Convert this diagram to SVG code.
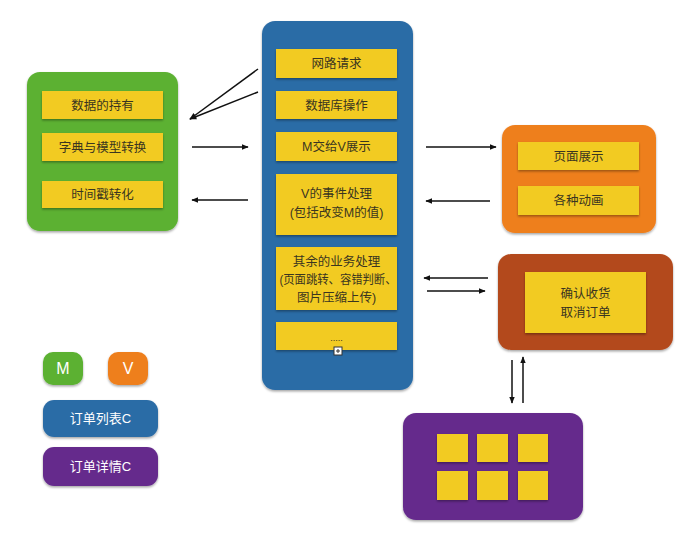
<svg xmlns="http://www.w3.org/2000/svg" width="700" height="535" viewBox="0 0 700 535">
<style>
.bar{fill:#f2cb23;filter:url(#sh)}
.t{font-family:"Liberation Sans","Noto Sans CJK SC",sans-serif;font-size:12.5px;fill:#3a3520;text-anchor:middle}
.w{font-family:"Liberation Sans","Noto Sans CJK SC",sans-serif;font-size:13px;fill:#ffffff;text-anchor:middle}
.c{stroke:#111;stroke-width:1.5;fill:none;marker-end:url(#ah)}
</style>
<defs>
<filter id="sh" x="-10%" y="-10%" width="130%" height="140%">
<feDropShadow dx="0" dy="1.5" stdDeviation="1.2" flood-color="#000" flood-opacity="0.35"/>
</filter>
<marker id="ah" viewBox="0 0 10 10" refX="9" refY="5" markerWidth="7" markerHeight="7" orient="auto" markerUnits="userSpaceOnUse">
<path d="M0,1 L10,5 L0,9 Z" fill="#111"/>
</marker>
</defs>
<rect width="700" height="535" fill="#fff"/>

<g id="model">
<rect x="27" y="72" width="151" height="159" rx="13" fill="#5bb131" filter="url(#sh)"/>
<rect class="bar" x="42" y="91" width="121" height="28"/>
<text class="t" x="102.5" y="110">数据的持有</text>
<rect class="bar" x="42" y="133" width="121" height="28"/>
<text class="t" x="102.5" y="152">字典与模型转换</text>
<rect class="bar" x="42" y="181" width="121" height="27"/>
<text class="t" x="102.5" y="199">时间戳转化</text>
</g>

<g id="listC">
<rect x="262" y="21" width="151" height="369" rx="13" fill="#2c6ca6" filter="url(#sh)"/>
<rect class="bar" x="276" y="49" width="121" height="29"/>
<text class="t" x="336.5" y="68">网路请求</text>
<rect class="bar" x="276" y="91" width="121" height="28"/>
<text class="t" x="336.5" y="110">数据库操作</text>
<rect class="bar" x="276" y="132" width="121" height="29"/>
<text class="t" x="336.5" y="151">M交给V展示</text>
<rect class="bar" x="276" y="174" width="121" height="61"/>
<text class="t" x="336.5" y="198">V的事件处理</text>
<text class="t" x="336.5" y="217">(包括改变M的值)</text>
<rect class="bar" x="276" y="247" width="121" height="63"/>
<text class="t" x="336.5" y="266">其余的业务处理</text>
<text class="t" x="338" y="284" textLength="117" lengthAdjust="spacingAndGlyphs">(页面跳转、容错判断、</text>
<text class="t" x="336.5" y="302">图片压缩上传)</text>
<rect class="bar" x="276" y="322" width="121" height="28"/>
<text class="t" x="336.5" y="341" style="font-size:9px">.....</text>
<rect x="334" y="347" width="8" height="8" fill="#fff" stroke="#333" stroke-width="1"/>
<path d="M338,349 V353 M336,351 H340" stroke="#333" stroke-width="1"/>
</g>

<g id="view">
<rect x="502" y="125" width="154" height="108" rx="13" fill="#ee7f1f" filter="url(#sh)"/>
<rect class="bar" x="518" y="142" width="121" height="28"/>
<text class="t" x="578.5" y="161">页面展示</text>
<rect class="bar" x="518" y="186" width="121" height="29"/>
<text class="t" x="578.5" y="205">各种动画</text>
</g>

<g id="detailActions">
<rect x="498" y="254" width="175" height="96" rx="13" fill="#b3491b" filter="url(#sh)"/>
<rect class="bar" x="525" y="272" width="121" height="61"/>
<text class="t" x="585.5" y="298">确认收货</text>
<text class="t" x="585.5" y="317">取消订单</text>
</g>

<g id="detailC">
<rect x="403" y="413" width="180" height="107" rx="13" fill="#652b8c" filter="url(#sh)"/>
<rect class="bar" x="437" y="434" width="31" height="28"/>
<rect class="bar" x="477" y="434" width="31" height="28"/>
<rect class="bar" x="518" y="434" width="30" height="28"/>
<rect class="bar" x="437" y="471" width="31" height="29"/>
<rect class="bar" x="477" y="471" width="31" height="29"/>
<rect class="bar" x="518" y="471" width="30" height="29"/>
</g>

<g id="legendM">
<rect x="43" y="352" width="40" height="33" rx="10" fill="#5bb131" filter="url(#sh)"/>
<text class="w" x="63" y="374" style="font-size:16px">M</text>
</g>
<g id="legendV">
<rect x="108" y="352" width="40" height="33" rx="10" fill="#ee7f1f" filter="url(#sh)"/>
<text class="w" x="128" y="374" style="font-size:16px">V</text>
</g>
<g id="legendList">
<rect x="43" y="400" width="115" height="37" rx="11" fill="#2c6ca6" filter="url(#sh)"/>
<text class="w" x="100.5" y="423">订单列表C</text>
</g>
<g id="legendDetail">
<rect x="43" y="447" width="115" height="39" rx="11" fill="#652b8c" filter="url(#sh)"/>
<text class="w" x="100.5" y="471">订单详情C</text>
</g>

<g id="connectors">
<line class="c" x1="258" y1="69" x2="190" y2="119"/>
<line class="c" x1="258" y1="92" x2="190" y2="119"/>
<line class="c" x1="192" y1="147" x2="248" y2="147"/>
<line class="c" x1="248" y1="200" x2="192" y2="200"/>
<line class="c" x1="426" y1="147" x2="496" y2="147"/>
<line class="c" x1="490" y1="201" x2="426" y2="201"/>
<line class="c" x1="488" y1="278" x2="424" y2="278"/>
<line class="c" x1="427" y1="291" x2="485" y2="291"/>
<line class="c" x1="512" y1="360" x2="512" y2="403"/>
<line class="c" x1="523" y1="403" x2="523" y2="357"/>
</g>
</svg>
